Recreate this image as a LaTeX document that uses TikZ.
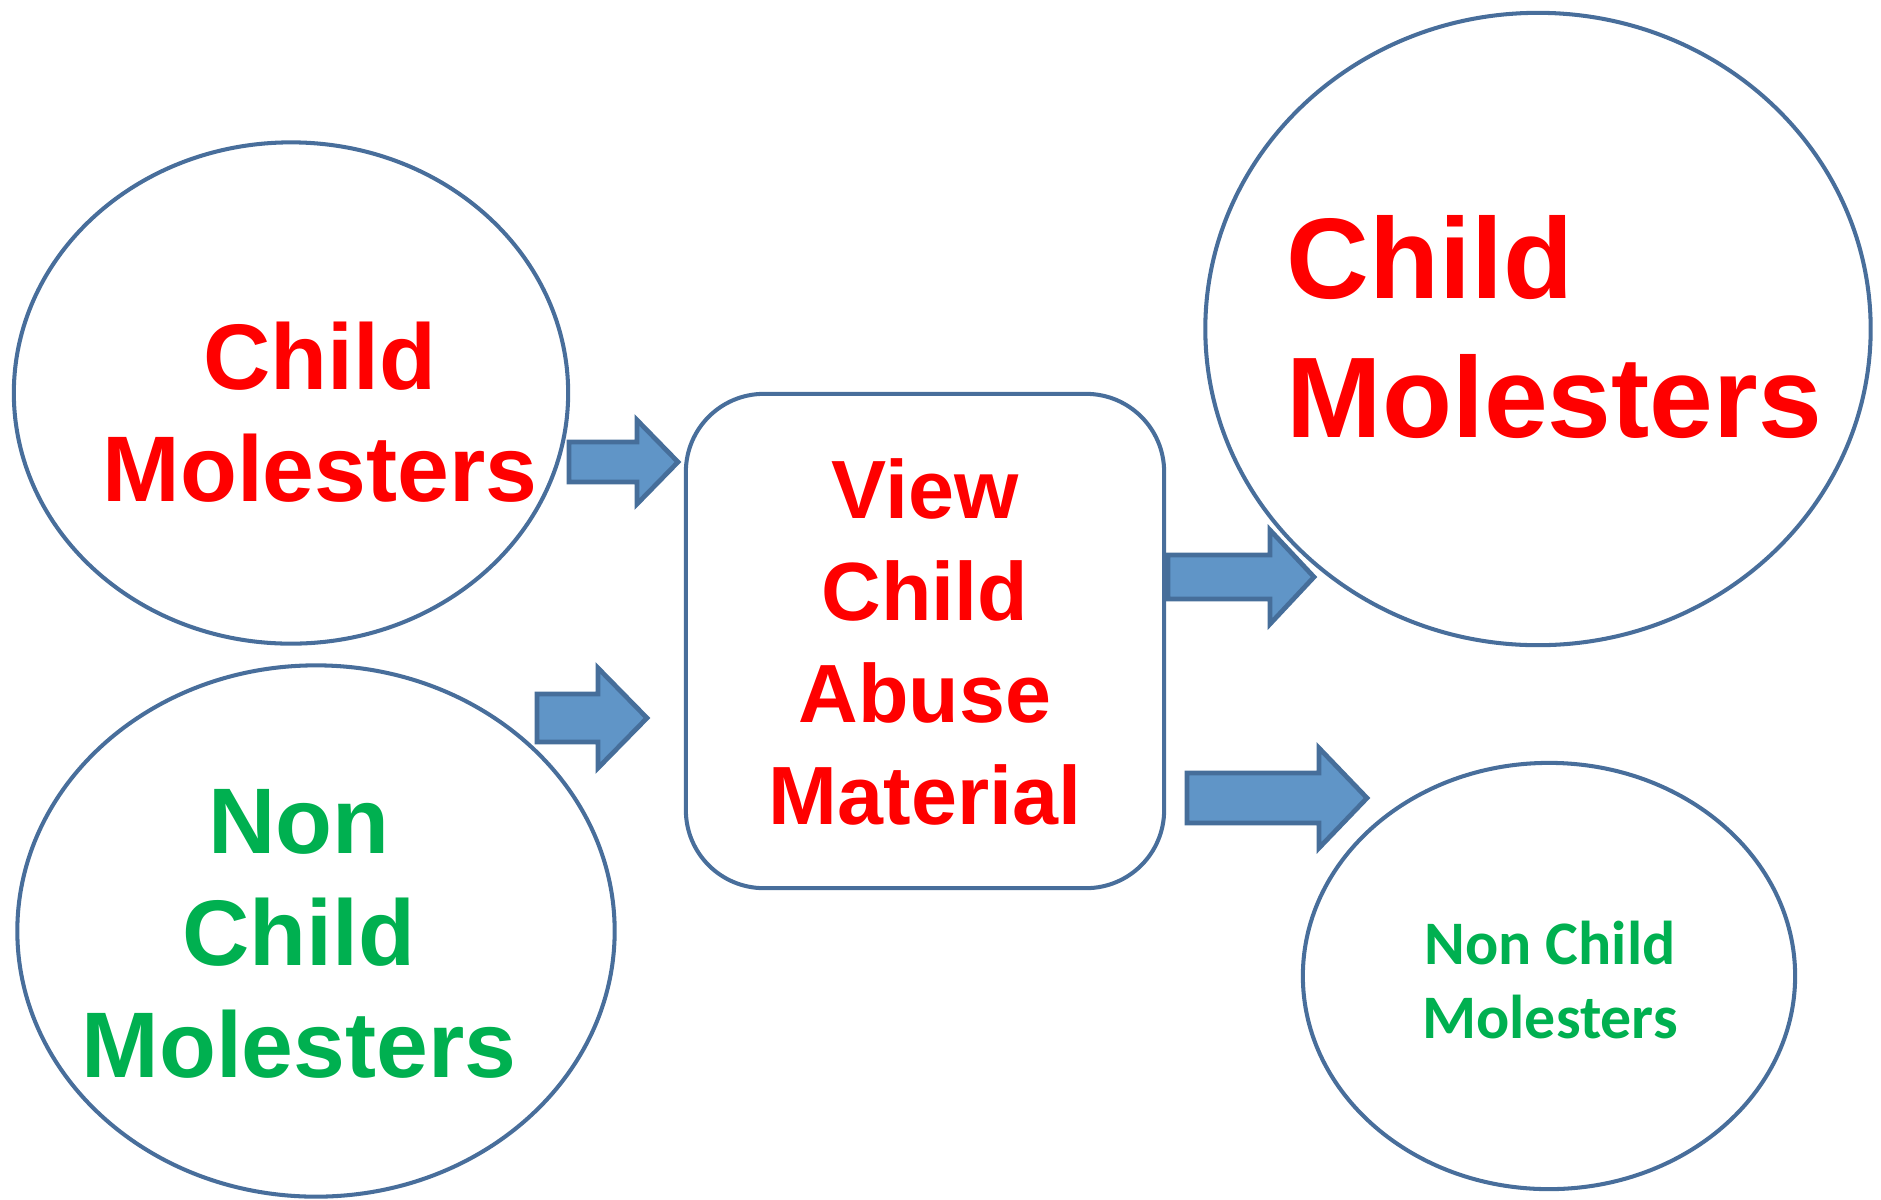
\documentclass[tikz,border=0pt]{standalone}
\usepackage{fontspec}
\setmainfont{Liberation Sans}
\newfontfamily\calibrifont{Carlito}
\usepackage{tikz}
\usetikzlibrary{shapes.geometric,positioning}

\definecolor{ringblue}{RGB}{72,110,155}
\definecolor{arrowfill}{RGB}{96,149,199}
\definecolor{arrowedge}{RGB}{70,110,154}
\definecolor{txtred}{RGB}{255,0,0}
\definecolor{txtgreen}{RGB}{0,176,80}

\tikzset{
    bubble/.style={ellipse, draw=ringblue, line width=1.15pt, inner sep=0pt},
    viewbox/.style={rectangle, rounded corners=0.78cm, draw=ringblue, line width=1.15pt, inner sep=0pt},
    blockarrow/.style={fill=arrowfill, draw=arrowedge, line width=1.35pt, line join=miter},
    bigtext/.style={align=center, inner sep=0pt, font={\bfseries\fontsize{26.5pt}{31.9pt}\selectfont}},
    midtext/.style={align=center, inner sep=0pt, text=txtred, font={\bfseries\fontsize{23.5pt}{29pt}\selectfont}},
    hugetext/.style={align=left, inner sep=0pt, text=txtred, font={\bfseries\fontsize{32.6pt}{39.8pt}\selectfont}},
    smalltext/.style={align=center, inner sep=0pt, text=txtgreen, font={\calibrifont\bfseries\fontsize{17.6pt}{21.3pt}\selectfont}}
}

% tail x, mid y, body half, head base x, head half, tip x
\newcommand{\fatarrow}[6]{%
    \draw[blockarrow] (#1,#2-#3) -- (#4,#2-#3) -- (#4,#2-#5) -- (#6,#2)
        -- (#4,#2+#5) -- (#4,#2+#3) -- (#1,#2+#3) -- cycle;}

\begin{document}
\begin{tikzpicture}[x=0.01cm,y=-0.01cm]
    \useasboundingbox (0,0) rectangle (1881,1199);

    \node[bubble, minimum width=5.54cm, minimum height=5.01cm] at (291,393) (cmleft) {};
    \node[bubble, minimum width=5.97cm, minimum height=5.31cm] at (316,931) (ncmleft) {};
    \node[bubble, minimum width=6.65cm, minimum height=6.32cm] at (1538,329) (cmright) {};
    \node[bubble, minimum width=4.92cm, minimum height=4.26cm] at (1549,976) (ncmright) {};
    \node[viewbox, minimum width=4.78cm, minimum height=4.94cm] at (925,641) (view) {};

    \node[bigtext, text=txtred] at (320,412) (cmleftlbl) {Child\\Molesters};
    \node[bigtext, text=txtgreen] at (299,934) (ncmleftlbl) {Non\\Child\\Molesters};
    \node[midtext] at (925,642) (viewlbl) {View\\Child\\Abuse\\Material};
    \node[hugetext, anchor=west] at (1286,327) (cmrightlbl) {Child\\Molesters};
    \node[smalltext] at (1550,980) (ncmrightlbl) {Non Child\\Molesters};

    \fatarrow{569}{462}{20}{637}{42}{678}
    \fatarrow{537}{718}{24}{598}{50}{647}
    \fatarrow{1168}{577}{22}{1270}{47}{1314}
    \fatarrow{1187}{798}{25}{1319}{50}{1367}
\end{tikzpicture}
\end{document}
